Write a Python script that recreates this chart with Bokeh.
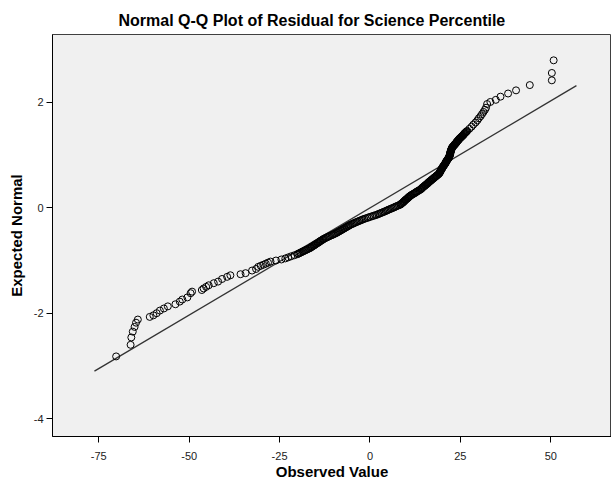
from bokeh.plotting import figure
from bokeh.models import Range1d, FixedTicker, ColumnDataSource
from bokeh.embed import file_html
from bokeh.resources import INLINE

# Lower tail (observed residual, expected normal)
low_observed = [-70.2, -66.2, -66.0, -65.6, -65.1, -64.7, -64.2, -60.9, -59.9, -59.0, -58.1,
                -57.0, -55.9, -53.8, -52.6, -51.9, -50.5, -49.6, -49.2, -46.5, -46.0, -45.3,
                -44.6, -43.2, -42.0, -40.9, -39.5, -38.6, -35.8, -34.4, -32.6, -31.5]
low_expected = [-2.82, -2.60, -2.46, -2.35, -2.26, -2.18, -2.12, -2.07, -2.04, -2.00, -1.95,
                -1.91, -1.87, -1.83, -1.78, -1.74, -1.70, -1.62, -1.59, -1.56, -1.53, -1.50,
                -1.47, -1.43, -1.40, -1.35, -1.31, -1.28, -1.26, -1.24, -1.19, -1.16]

# Dense middle band (even hundredths)
mid_observed = [-30.9, -30.2, -29.5, -28.8, -28.2, -27.5, -26.0, -24.5, -23.4, -22.6, -21.8, -20.9,
                -20.1, -19.5, -18.9, -18.3, -17.7, -17.1, -16.5, -16.1, -15.6, -15.2, -14.8, -14.3,
                -13.9, -13.5, -13.0, -12.5, -11.9, -11.3, -10.6, -10.0, -9.4, -8.9, -8.4, -7.9,
                -7.4, -6.9, -6.4, -5.9, -5.4, -4.7, -4.1, -3.4, -2.7, -2.0, -1.2, -0.3, 0.6, 1.5,
                2.3, 3.0, 3.7, 4.4, 5.0, 5.7, 6.4, 7.0, 7.7, 8.4, 8.7, 9.1, 9.4, 9.7, 10.0, 10.4,
                10.7, 11.0, 11.4, 11.9, 12.4, 12.8, 13.3, 13.8, 14.2, 14.5, 14.8, 15.2, 15.5, 15.9,
                16.2, 16.5, 16.9, 17.2, 17.6, 17.9, 18.3, 18.6, 19.0, 19.2, 19.4, 19.5, 19.7, 19.9,
                20.0, 20.2, 20.4, 20.6, 20.8, 21.0, 21.1, 21.3, 21.5, 21.7, 21.9, 22.0, 22.1, 22.2,
                22.2, 22.3, 22.4, 22.5, 22.6, 22.7, 22.9, 23.2, 23.4, 23.7, 23.9, 24.1, 24.4, 24.6,
                24.9, 25.2, 25.5, 25.8, 26.0, 26.3, 26.6, 26.9, 27.5, 28.1, 28.6, 29.2, 29.7, 30.1,
                30.6, 31.0, 31.4, 31.8, 32.1]
mid_expected = [-1.12, -1.10, -1.08, -1.06, -1.04, -1.02, -1.00, -0.98, -0.96, -0.94, -0.92, -0.90,
                -0.88, -0.86, -0.84, -0.82, -0.80, -0.78, -0.76, -0.74, -0.72, -0.70, -0.68, -0.66,
                -0.64, -0.62, -0.60, -0.58, -0.56, -0.54, -0.52, -0.50, -0.48, -0.46, -0.44, -0.42,
                -0.40, -0.38, -0.36, -0.34, -0.32, -0.30, -0.28, -0.26, -0.24, -0.22, -0.20, -0.18,
                -0.16, -0.14, -0.12, -0.10, -0.08, -0.06, -0.04, -0.02, 0.00, 0.02, 0.04, 0.06,
                0.08, 0.10, 0.12, 0.14, 0.16, 0.18, 0.20, 0.22, 0.24, 0.26, 0.28, 0.30, 0.32, 0.34,
                0.36, 0.38, 0.40, 0.42, 0.44, 0.46, 0.48, 0.50, 0.52, 0.54, 0.56, 0.58, 0.60, 0.62,
                0.64, 0.66, 0.68, 0.70, 0.72, 0.74, 0.76, 0.78, 0.80, 0.82, 0.84, 0.86, 0.88, 0.90,
                0.92, 0.94, 0.96, 0.98, 1.00, 1.02, 1.04, 1.06, 1.08, 1.10, 1.12, 1.14, 1.16, 1.18,
                1.20, 1.22, 1.24, 1.26, 1.28, 1.30, 1.32, 1.34, 1.36, 1.38, 1.40, 1.42, 1.44, 1.46,
                1.50, 1.54, 1.58, 1.62, 1.66, 1.70, 1.74, 1.78, 1.82, 1.86, 1.90]

# Dense middle band (odd hundredths)
core_observed = [-19.8, -19.2, -18.6, -18.0, -17.4, -16.8, -16.3, -15.9, -15.4, -15.0, -14.5, -14.1,
                 -13.7, -13.2, -12.8, -12.2, -11.6, -11.0, -10.3, -9.7, -9.1, -8.6, -8.1, -7.6,
                 -7.1, -6.6, -6.1, -5.6, -5.0, -4.4, -3.7, -3.0, -2.3, -1.6, -0.7, 0.1, 1.0, 1.9,
                 2.6, 3.3, 4.0, 4.7, 5.3, 6.0,
                 6.7, 7.3, 8.0, 8.5, 8.9, 9.2, 9.5, 9.8, 10.2, 10.5, 10.8, 11.2, 11.6, 12.1, 12.6,
                 13.0, 13.5, 14.0, 14.3, 14.6, 15.0, 15.3, 15.7, 16.0, 16.3, 16.7, 17.0, 17.4, 17.7,
                 18.1, 18.4, 18.8, 19.1, 19.3, 19.4, 19.6, 19.8, 19.9, 20.1, 20.3, 20.5, 20.7, 20.9,
                 21.0, 21.2, 21.4, 21.6, 21.8, 21.9, 22.0, 22.1, 22.2, 22.2, 22.3, 22.4, 22.5, 22.6,
                 22.8, 23.0, 23.3, 23.5, 23.8, 24.0, 24.2, 24.5, 24.7, 25.0, 25.3, 25.6, 25.9, 26.1,
                 26.4, 26.7]
core_expected = [-0.87, -0.85, -0.83, -0.81, -0.79, -0.77, -0.75, -0.73, -0.71, -0.69, -0.67, -0.65,
                 -0.63, -0.61, -0.59, -0.57, -0.55, -0.53, -0.51, -0.49, -0.47, -0.45, -0.43, -0.41,
                 -0.39, -0.37, -0.35, -0.33, -0.31, -0.29, -0.27, -0.25, -0.23, -0.21, -0.19, -0.17,
                 -0.15, -0.13, -0.11, -0.09, -0.07, -0.05, -0.03, -0.01,
                 0.01, 0.03, 0.05, 0.07, 0.09, 0.11, 0.13, 0.15, 0.17, 0.19, 0.21, 0.23, 0.25, 0.27,
                 0.29, 0.31, 0.33, 0.35, 0.37, 0.39, 0.41, 0.43, 0.45, 0.47, 0.49, 0.51, 0.53, 0.55,
                 0.57, 0.59, 0.61, 0.63, 0.65, 0.67, 0.69, 0.71, 0.73, 0.75, 0.77, 0.79, 0.81, 0.83,
                 0.85, 0.87, 0.89, 0.91, 0.93, 0.95, 0.97, 0.99, 1.01, 1.03, 1.05, 1.07, 1.09, 1.11,
                 1.13, 1.15, 1.17, 1.19, 1.21, 1.23, 1.25, 1.27, 1.29, 1.31, 1.33, 1.35, 1.37, 1.39,
                 1.41, 1.43, 1.45]

# Upper tail
high_observed = [32.4, 33.3, 34.8, 36.1, 38.2, 40.4, 44.2, 50.3, 50.3, 50.8]
high_expected = [1.97, 2.01, 2.05, 2.11, 2.17, 2.23, 2.33, 2.42, 2.56, 2.80]

# Reference line endpoints
ref_observed = [-76.2, 57.1]
ref_expected = [-3.10, 2.32]

x_ticks = [-75, -50, -25, 0, 25, 50]
y_ticks = [-4, -2, 0, 2]


def paired(xs, ys):
    k = min(len(xs), len(ys))
    return list(xs[:k]), list(ys[:k])


xs, ys = [], []
for ox, oy in ((low_observed, low_expected), (mid_observed, mid_expected),
               (core_observed, core_expected), (high_observed, high_expected)):
    a, b = paired(ox, oy)
    xs += a
    ys += b
src = ColumnDataSource(data=dict(x=xs, y=ys))

FONT = "Liberation Sans"

p = figure(width=611, height=482, output_backend="svg", toolbar_location=None,
           x_range=Range1d(-87.8, 66.8), y_range=Range1d(-4.34, 3.29),
           min_border_left=52, min_border_right=0, min_border_top=34, min_border_bottom=43,
           background_fill_color="#f0f0f0", border_fill_color="white",
           title="Normal Q-Q Plot of Residual for Science Percentile")

p.title.text_font = FONT
p.title.text_font_size = "16px"
p.title.text_font_style = "bold"
p.title.text_color = "black"
p.title.align = "left"
p.title.offset = 66
p.title.standoff = 11

p.outline_line_color = "#404040"
p.outline_line_width = 1
p.grid.visible = False

for ax in (p.xaxis[0], p.yaxis[0]):
    ax.axis_line_color = "black"
    ax.major_tick_line_color = "black"
    ax.minor_tick_line_color = None
    ax.major_tick_in = 0
    ax.major_tick_out = 6
    ax.major_label_text_font = FONT
    ax.major_label_text_font_size = "11px"
    ax.major_label_text_color = "#222222"
    ax.axis_label_text_font = FONT
    ax.axis_label_text_font_size = "15px"
    ax.axis_label_text_font_style = "bold"
    ax.axis_label_text_color = "black"

p.xaxis.ticker = FixedTicker(ticks=x_ticks)
p.yaxis.ticker = FixedTicker(ticks=y_ticks)
p.xaxis.major_label_overrides = {t: str(t) for t in x_ticks}
p.yaxis.major_label_overrides = {t: str(t) for t in y_ticks}
p.xaxis.axis_label = "Observed Value"
p.yaxis.axis_label = "Expected Normal"
p.xaxis.major_label_standoff = 9
p.xaxis.axis_label_standoff = 0
p.yaxis.major_label_standoff = 3
p.yaxis.axis_label_standoff = 6

p.line(ref_observed, ref_expected, line_color="#333333", line_width=1.3)
p.scatter("x", "y", source=src, marker="circle", size=7, fill_color=None,
          line_color="black", line_width=1.0)

open("out.html", "w").write(file_html(p, INLINE))
